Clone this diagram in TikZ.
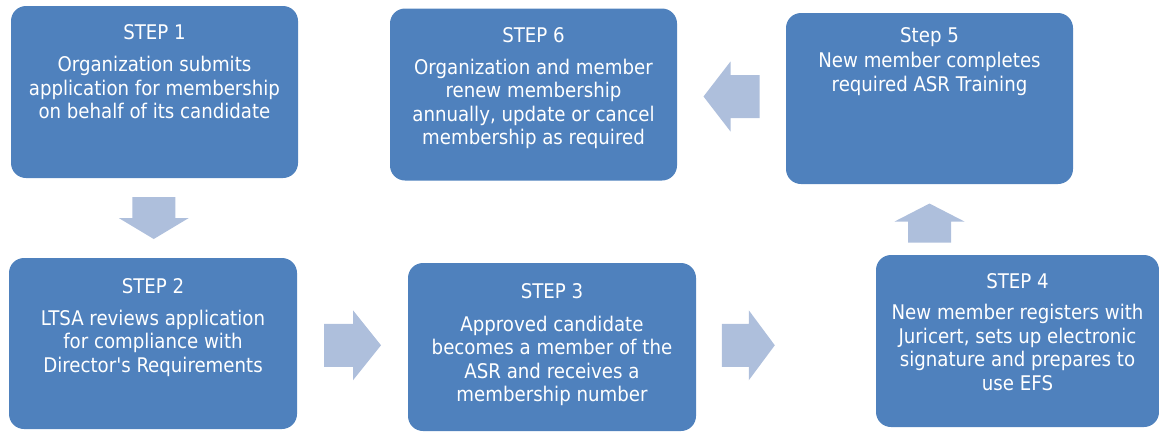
\documentclass[tikz,border=0pt]{standalone}
\usepackage{fontspec}
\setmainfont{DejaVu Sans Condensed}
\usepackage{tikz}
\usetikzlibrary{positioning}
\usetikzlibrary{calc}

\definecolor{stepblue}{HTML}{4F81BD}
\definecolor{arrowblue}{HTML}{AEBFDC}

\tikzset{
	stepbox/.style={rectangle, rounded corners=15pt, fill=stepblue,
		minimum width=287pt, minimum height=172pt, inner sep=0pt},
	steptext/.style={align=center, text=white, inner sep=0pt,
		font=\fontsize{20.2}{23.5}\selectfont},
	% block arrow pointing right, centred on the origin: #1 = length, #2 = head length
	pics/blockarrow/.style 2 args={code={
		\fill[arrowblue] (-#1/2,-21.5) -- (#1/2-#2,-21.5) -- (#1/2-#2,-35)
			-- (#1/2,0) -- (#1/2-#2,35) -- (#1/2-#2,21.5) -- (-#1/2,21.5) -- cycle;
	}},
}

\begin{document}
\begin{tikzpicture}[x=1pt, y=1pt]
	
	\useasboundingbox (0,0) rectangle (1159,-432);
	
	% the six boxes, top row left to right is 1, 6, 5; bottom row is 2, 3, 4
	\node[stepbox] (s1) at (154.5,-92) {};
	\node[stepbox] (s6) at (533.5,-94.5) {};
	\node[stepbox, minimum height=171pt] (s5) at (929.5,-98.5) {};
	\node[stepbox, minimum width=288pt, minimum height=171pt] (s2) at (153,-343.5) {};
	\node[stepbox, minimum width=288pt, minimum height=168pt] (s3) at (552,-347) {};
	\node[stepbox, minimum width=283pt] (s4) at (1017.5,-341) {};
	
	% texts, hung from the top of each box
	\node[steptext, below=19pt of s1.north] (t1)
		{STEP 1\\[8.5pt] Organization submits\\ application for membership\\ on behalf of its candidate};
	\node[steptext, below=19pt of s6.north] (t6)
		{STEP 6\\[8.5pt] Organization and member\\ renew membership\\ annually, update or cancel\\ membership as required};
	\node[steptext, below=15pt of s5.north] (t5)
		{Step 5\\[1.5pt] New member completes\\ required ASR Training};
	\node[steptext, below=20pt of s2.north] (t2)
		{STEP 2\\[8.5pt] LTSA reviews application\\ for compliance with\\ Director\textquotesingle s Requirements};
	\node[steptext, below=20pt of s3.north] (t3)
		{STEP 3\\[9.5pt] Approved candidate\\ becomes a member of the\\ ASR and receives a\\ membership number};
	\node[steptext, below=18pt of s4.north] (t4)
		{STEP 4\\[8pt] New member registers with\\ Juricert, sets up electronic\\ signature and prepares to\\ use EFS};
	
	% block arrows between the boxes
	\pic[rotate=-90] at ($(s1.south)!0.5!(s2.north)$) {blockarrow={42}{21}};
	\pic at ($(s2.east)!0.5!(s3.west)$) {blockarrow={57}{28}};
	\pic at ($(s3.east)!0.29!(s4.west)$) {blockarrow={53}{26}};
	\pic[rotate=90] at ($(s5.south)!0.55!(s5.south |- s4.north)$) {blockarrow={39}{18}};
	\pic[rotate=180] at ($(s5.west)!0.5!(s6.east)$) {blockarrow={56}{27}};
	
\end{tikzpicture}
\end{document}
